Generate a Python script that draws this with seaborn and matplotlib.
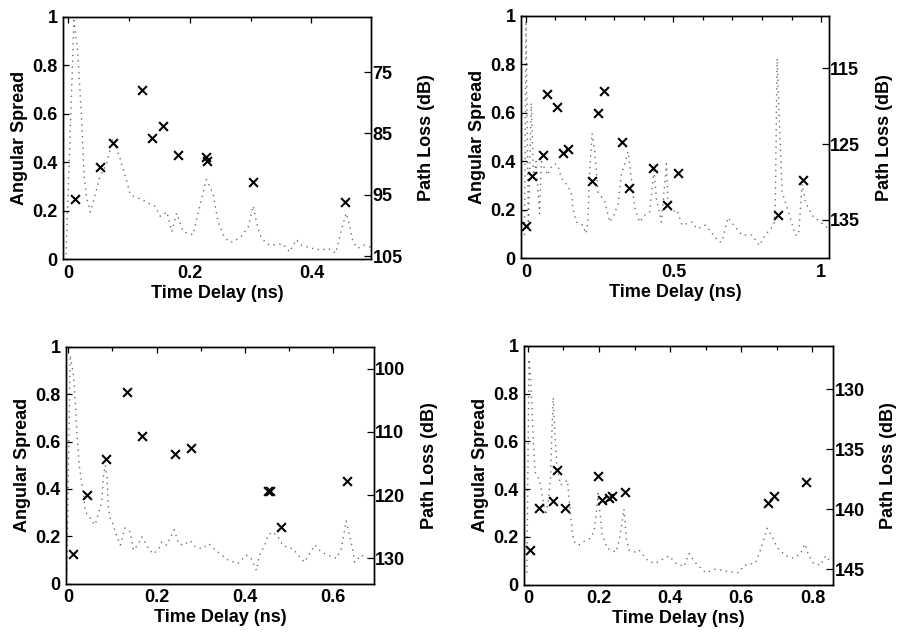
import matplotlib
matplotlib.use("Agg")
import matplotlib.pyplot as plt
import seaborn as sns
from matplotlib.ticker import MultipleLocator

sns.set_theme(style="white")
plt.rcParams['font.family'] = ['Liberation Sans', 'DejaVu Sans']
plt.rcParams['font.weight'] = 'bold'
plt.rcParams['axes.labelweight'] = 'bold'
plt.rcParams['axes.labelcolor'] = 'black'
plt.rcParams['text.color'] = 'black'
plt.rcParams['xtick.color'] = 'black'
plt.rcParams['ytick.color'] = 'black'

# ---------------- Panel A (top-left) ----------------
a_delay_pl = [-0.004, 0.009, 0.015, 0.0186, 0.022, 0.024, 0.026, 0.0295, 0.036, 0.0415, 0.051, 0.063, 0.073,
              0.085, 0.095, 0.102, 0.123, 0.143, 0.151, 0.162, 0.170, 0.178, 0.189, 0.205, 0.216, 0.227, 0.238,
              0.246, 0.255, 0.263, 0.271, 0.285, 0.296, 0.304, 0.309, 0.315, 0.323, 0.331, 0.353, 0.364, 0.375,
              0.383, 0.400, 0.416, 0.427, 0.440, 0.449, 0.457, 0.462, 0.468, 0.476, 0.487, 0.497]
a_pl = [104.7, 66.6, 71.5, 77.5, 83.4, 88.3, 92.1, 95.3, 97.8, 95.9, 92.3, 89.9, 85.8,
        89.1, 92.5, 95.0, 95.9, 96.9, 98.5, 97.8, 101.0, 98.0, 101.0, 101.5, 96.9, 92.5, 94.8,
        99.3, 101.5, 102.6, 102.7, 101.7, 100.2, 96.8, 99.2, 101.5, 102.6, 103.2, 103.0, 104.3, 102.3,
        103.2, 103.7, 104.0, 103.7, 104.5, 100.8, 98.0, 99.6, 102.6, 103.7, 103.2, 103.5]
a_delay_as = [0.011, 0.052, 0.073, 0.121, 0.138, 0.156, 0.181, 0.226, 0.228, 0.303, 0.455]
a_as = [0.25, 0.38, 0.48, 0.70, 0.50, 0.55, 0.43, 0.42, 0.405, 0.32, 0.235]
a_xticks = [0, 0.2, 0.4]
a_pl_ticks = [75, 85, 95, 105]

# ---------------- Panel B (top-right) ----------------
b_delay_pl = [-0.005, 0.000, 0.008, 0.018, 0.026, 0.034, 0.046, 0.052, 0.058, 0.075, 0.080, 0.097, 0.108, 0.120,
              0.142, 0.154, 0.159, 0.171, 0.193, 0.204, 0.210, 0.216, 0.224, 0.233, 0.244, 0.267, 0.284,
              0.300, 0.312, 0.323, 0.346, 0.357, 0.368, 0.385, 0.402, 0.419, 0.434, 0.442, 0.459, 0.476,
              0.481, 0.493, 0.512, 0.529, 0.563, 0.580, 0.608, 0.631, 0.653, 0.664, 0.685, 0.704, 0.732,
              0.766, 0.791, 0.811, 0.840, 0.845, 0.851, 0.868, 0.890, 0.913, 0.924, 0.936, 0.947, 0.969,
              0.998, 1.026]
b_pl = [137.0, 108.7, 136.3, 119.6, 129.5, 127.3, 134.2, 127.3, 127.8, 129.1, 128.3, 127.6, 127.8, 129.5,
        130.5, 131.6, 133.5, 135.3, 135.7, 136.8, 134.9, 128.7, 123.6, 126.0, 131.3, 132.6, 135.3,
        134.2, 132.9, 129.1, 126.0, 129.5, 133.3, 135.3, 134.4, 134.0, 128.5, 132.2, 135.3, 127.6,
        132.2, 134.0, 133.7, 135.7, 135.3, 136.2, 135.7, 136.8, 137.9, 137.9, 134.7, 135.7, 137.0,
        137.0, 138.4, 137.0, 135.7, 133.5, 113.7, 131.3, 134.0, 137.0, 137.0, 130.3, 132.6, 134.4,
        135.3, 136.2]
b_delay_as = [0.001, 0.021, 0.059, 0.070, 0.104, 0.127, 0.142, 0.225, 0.245, 0.264, 0.327, 0.350,
              0.430, 0.479, 0.514, 0.855, 0.939]
b_as = [0.135, 0.341, 0.428, 0.677, 0.624, 0.434, 0.452, 0.321, 0.599, 0.692, 0.479, 0.292,
        0.372, 0.220, 0.351, 0.179, 0.322]
b_xticks = [0, 0.5, 1]
b_pl_ticks = [115, 125, 135]

# ---------------- Panel C (bottom-left) ----------------
c_delay_pl = [-0.003, 0.0045, 0.012, 0.016, 0.020, 0.025, 0.029, 0.033, 0.039, 0.046, 0.054, 0.061, 0.069,
              0.076, 0.080, 0.084, 0.088, 0.091, 0.095, 0.103, 0.106, 0.118, 0.128, 0.140, 0.148, 0.159,
              0.167, 0.182, 0.193, 0.205, 0.212, 0.223, 0.240, 0.250, 0.261, 0.276, 0.288, 0.303, 0.318,
              0.333, 0.339, 0.362, 0.384, 0.403, 0.414, 0.426, 0.433, 0.445, 0.452, 0.462, 0.475, 0.486,
              0.509, 0.524, 0.535, 0.558, 0.573, 0.588, 0.607, 0.618, 0.629, 0.637, 0.645, 0.648, 0.663,
              0.679, 0.690]
c_pl = [131.8, 97.9, 101.1, 105.3, 110.6, 115.3, 117.4, 119.0, 122.7, 123.2, 124.2, 124.7, 122.7,
        121.1, 116.9, 115.3, 117.4, 122.0, 123.7, 124.8, 125.8, 127.9, 125.2, 125.8, 128.7, 127.7,
        126.6, 128.5, 129.3, 128.5, 127.4, 127.9, 125.5, 127.7, 127.9, 127.2, 128.2, 128.5, 127.7,
        128.7, 129.0, 130.3, 130.8, 129.5, 130.0, 131.9, 129.5, 127.9, 126.4, 125.8, 126.6, 128.0,
        128.5, 129.8, 130.6, 127.9, 129.0, 129.5, 130.0, 128.5, 124.1, 126.4, 129.0, 130.6, 129.5,
        130.0, 129.8]
c_delay_as = [0.011, 0.043, 0.085, 0.132, 0.168, 0.242, 0.279, 0.453, 0.457, 0.482, 0.630]
c_as = [0.124, 0.373, 0.528, 0.808, 0.625, 0.547, 0.573, 0.392, 0.392, 0.24, 0.433]
c_xticks = [0, 0.2, 0.4, 0.6]
c_pl_ticks = [100, 110, 120, 130]

# ---------------- Panel D (bottom-right) ----------------
d_delay_pl = [-0.003, 0.003, 0.007, 0.010, 0.014, 0.017, 0.020, 0.033, 0.040, 0.050, 0.057, 0.064, 0.068,
              0.071, 0.075, 0.082, 0.092, 0.111, 0.115, 0.120, 0.125, 0.129, 0.143, 0.157, 0.172, 0.186,
              0.192, 0.197, 0.204, 0.209, 0.217, 0.223, 0.237, 0.247, 0.256, 0.265, 0.270, 0.277, 0.284,
              0.298, 0.312, 0.340, 0.359, 0.397, 0.415, 0.439, 0.453, 0.472, 0.500, 0.528, 0.565, 0.593,
              0.607, 0.640, 0.654, 0.673, 0.687, 0.701, 0.725, 0.748, 0.767, 0.779, 0.790, 0.803, 0.823,
              0.837, 0.851]
d_pl = [145.3, 127.5, 128.9, 130.6, 133.6, 135.2, 136.9, 137.6, 138.9, 140.5, 139.4, 137.2, 133.0,
        130.7, 133.4, 136.6, 138.0, 137.6, 138.9, 140.5, 141.9, 142.7, 143.0, 142.7, 142.5, 141.9,
        140.5, 138.7, 140.7, 142.2, 142.7, 143.3, 143.4, 143.6, 142.7, 141.1, 140.0, 142.5, 143.4,
        143.6, 143.4, 144.4, 144.5, 143.9, 144.5, 144.8, 143.7, 144.5, 145.3, 145.0, 145.2, 145.3,
        144.7, 144.5, 143.4, 141.6, 142.3, 143.2, 143.9, 144.1, 143.7, 142.9, 143.9, 144.5, 144.7,
        143.9, 144.4]
d_delay_as = [0.006, 0.031, 0.070, 0.081, 0.103, 0.196, 0.209, 0.228, 0.237, 0.272, 0.675, 0.692, 0.781]
d_as = [0.144, 0.321, 0.349, 0.479, 0.321, 0.454, 0.354, 0.365, 0.372, 0.388, 0.342, 0.370, 0.430]
d_xticks = [0, 0.2, 0.4, 0.6, 0.8]
d_pl_ticks = [130, 135, 140, 145]

as_ticks = [0, 0.2, 0.4, 0.6, 0.8, 1]
fs = 13

fig = plt.figure(figsize=(8.99, 6.34), dpi=100)

panels = [
    ([0.0701, 0.591, 0.3426, 0.3826], (-0.009, 0.498), (105.5, 66.0), 0.1,
     a_delay_pl, a_pl, a_delay_as, a_as, a_xticks, a_pl_ticks),
    ([0.5795, 0.5923, 0.3426, 0.3825], (-0.017, 1.027), (140.1, 108.1), 0.1,
     b_delay_pl, b_pl, b_delay_as, b_as, b_xticks, b_pl_ticks),
    ([0.0734, 0.0794, 0.3426, 0.3733], (-0.005, 0.692), (134.0, 96.6), 0.1,
     c_delay_pl, c_pl, c_delay_as, c_as, c_xticks, c_pl_ticks),
    ([0.5829, 0.0778, 0.3437, 0.3765], (-0.011, 0.858), (146.3, 126.4), 0.1,
     d_delay_pl, d_pl, d_delay_as, d_as, d_xticks, d_pl_ticks),
]

for rect, xlim, pllim, minor, tpl, pl, tas, asv, xt, plt_ticks in panels:
    ax = fig.add_axes(rect)
    ax2 = ax.twinx()
    ax.set_zorder(ax2.get_zorder() + 1)
    ax.patch.set_visible(False)

    sns.lineplot(x=tpl, y=pl, ax=ax2, sort=False, estimator=None, color="#6e6e6e",
                 linewidth=1.0, linestyle=(0, (1, 3.2)))
    sns.scatterplot(x=tas, y=asv, ax=ax, marker="x", color="black", s=40, linewidth=1.5, zorder=5)

    ax.set_xlim(*xlim)
    ax.set_ylim(0, 1)
    ax2.set_ylim(*pllim)
    ax.set_xticks(xt)
    ax.set_xticklabels([f"{v:g}" for v in xt])
    ax.xaxis.set_minor_locator(MultipleLocator(minor))
    ax.set_yticks(as_ticks)
    ax.set_yticklabels([f"{v:g}" for v in as_ticks])
    ax2.set_yticks(plt_ticks)

    ax.tick_params(axis='both', which='both', direction='in', labelsize=fs, colors='black',
                   top=True, length=4, width=0.9, pad=4)
    ax.tick_params(axis='x', which='minor', length=3)
    ax.tick_params(axis='y', left=True, right=False)
    ax2.tick_params(axis='y', direction='in', labelsize=fs, length=5, width=0.9, pad=1, colors='black')

    ax.set_xlabel("Time Delay (ns)", fontsize=fs, fontweight='bold', labelpad=2, color='black')
    ax.set_ylabel("Angular Spread", fontsize=fs, fontweight='bold', labelpad=3, color='black')
    ax2.set_ylabel("Path Loss (dB)", fontsize=fs, fontweight='bold', labelpad=11, color='black')
    for a in (ax, ax2):
        for sp in a.spines.values():
            sp.set_color('black')
            sp.set_linewidth(1.0)
        for lab in a.get_xticklabels() + a.get_yticklabels():
            lab.set_fontweight('bold')
            lab.set_color('black')

fig.savefig("out.png", dpi=100)
